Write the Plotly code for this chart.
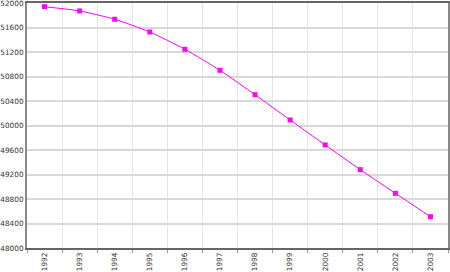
import plotly.graph_objects as go

years = ["1992", "1993", "1994", "1995", "1996", "1997", "1998", "1999",
         "2000", "2001", "2002", "2003"]
population = [51940, 51870, 51734, 51527, 51244, 50901, 50503, 50090,
              49682, 49279, 48893, 48511]
y_ticks = list(range(48000, 52001, 400))

fig = go.Figure(go.Scatter(
    x=years, y=population, mode="lines+markers",
    line=dict(color="#ff00ff", width=1, shape="spline", smoothing=0.6),
    marker=dict(symbol="square", size=5, color="#ff00ff"),
))

fig.update_layout(
    width=450, height=272,
    margin=dict(l=27, r=2, t=3, b=24),
    paper_bgcolor="white", plot_bgcolor="white",
    showlegend=False,
    font=dict(family="DejaVu Sans", size=7.3, color="#333"),
)
fig.update_xaxes(
    type="category", tickson="boundaries", range=[-0.5, 11.5],
    showgrid=True, gridcolor="#e6e6e6", gridwidth=1,
    ticks="outside", ticklen=3, tickcolor="#999",
    tickangle=-90, tickfont=dict(size=7.3),
    showline=True, linecolor="#666", linewidth=1.5, mirror=True,
    automargin=False,
)
fig.update_yaxes(
    range=[48000, 52000], tickvals=y_ticks,
    ticktext=[str(v) for v in y_ticks],
    showgrid=True, gridcolor="#d9d9d9", gridwidth=1.5,
    ticks="", ticklabelstandoff=0, ticklabeloverflow="allow",
    showline=True, linecolor="#888", linewidth=2, mirror=True,
    zeroline=False, automargin=False,
)
fig.write_html("out.html")
